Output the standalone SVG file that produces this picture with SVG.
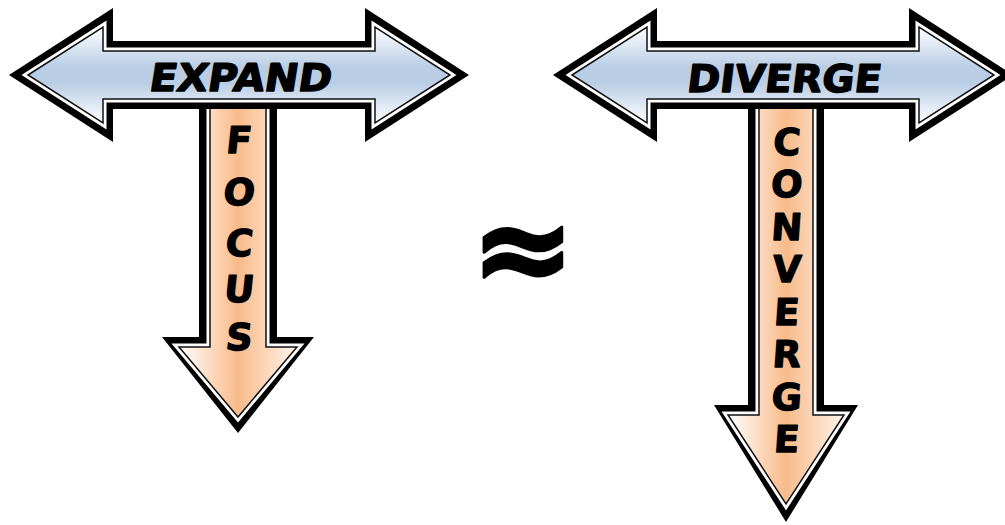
<svg xmlns="http://www.w3.org/2000/svg" width="1005" height="525" viewBox="0 0 1005 525">
  <defs>
    <linearGradient id="gBlue" x1="0" y1="0" x2="0" y2="1">
      <stop offset="0" stop-color="#ffffff"/>
      <stop offset="0.42" stop-color="#b9cde5"/>
      <stop offset="0.58" stop-color="#b9cde5"/>
      <stop offset="1" stop-color="#ffffff"/>
    </linearGradient>
    <linearGradient id="gOrange" x1="0" y1="0" x2="1" y2="0">
      <stop offset="0" stop-color="#ffffff"/>
      <stop offset="0.5" stop-color="#f8bb8a"/>
      <stop offset="1" stop-color="#fff4ec"/>
    </linearGradient>
    <path id="hOuter" d="M9,75 L113,8 L113,41 L365,41 L365,8 L469,75 L365,142 L365,109 L113,109 L113,142 Z"/>
    <path id="hInner" d="M28,75 L103,27 L103,51 L375,51 L375,27 L450,75 L375,123 L375,99 L103,99 L103,123 Z"/>
  </defs>
  <style>
    .outer { fill: #000000; }
    .gap { fill: none; stroke: #ffffff; stroke-width: 7; stroke-linejoin: miter; }
    .blue { fill: url(#gBlue); stroke: #111111; stroke-width: 1.5; }
    .orange { fill: url(#gOrange); stroke: #111111; stroke-width: 1.5; }
    .lbl { font-family: "DejaVu Sans", "Liberation Sans", sans-serif; font-weight: bold; fill: #000000; stroke: #000000; stroke-linejoin: round; }
    .h { font-size: 38px; stroke-width: 1.4; }
    .v { font-size: 37px; text-anchor: middle; stroke-width: 1.3; }
  </style>

  <g id="node-focus">
    <path class="outer" d="M199,90 L277,90 L277,337 L314,337 L238,433 L162,337 L199,337 Z"/>
    <path class="gap" d="M210,90 L266,90 L266,347 L297,347 L238,417 L179,347 L210,347 Z"/>
    <path class="orange" d="M210,90 L266,90 L266,347 L297,347 L238,417 L179,347 L210,347 Z"/>
    <text class="lbl v" transform="translate(238,153) skewX(-6)">F</text>
    <text class="lbl v" transform="translate(238,205) skewX(-6)">O</text>
    <text class="lbl v" transform="translate(238,256) skewX(-6)">C</text>
    <text class="lbl v" transform="translate(238,302) skewX(-6)">U</text>
    <text class="lbl v" transform="translate(238,350) skewX(-6)">S</text>
  </g>

  <g id="node-expand">
    <use href="#hOuter" class="outer"/>
    <use href="#hInner" class="gap"/>
    <use href="#hInner" class="blue"/>
    <text class="lbl h" transform="translate(239,91) skewX(-9)" text-anchor="middle" textLength="182" lengthAdjust="spacingAndGlyphs">EXPAND</text>
  </g>

  <g id="node-converge">
    <path class="outer" d="M748,90 L824,90 L824,405 L858,405 L786,522 L714,405 L748,405 Z"/>
    <path class="gap" d="M759,90 L813,90 L813,415 L844,415 L786,504 L728,415 L759,415 Z"/>
    <path class="orange" d="M759,90 L813,90 L813,415 L844,415 L786,504 L728,415 L759,415 Z"/>
    <text class="lbl v" transform="translate(786,155) skewX(-4)">C</text>
    <text class="lbl v" transform="translate(786,197.4) skewX(-4)">O</text>
    <text class="lbl v" transform="translate(786,239.9) skewX(-4)">N</text>
    <text class="lbl v" transform="translate(786,282.3) skewX(-4)">V</text>
    <text class="lbl v" transform="translate(786,324.7) skewX(-4)">E</text>
    <text class="lbl v" transform="translate(786,367.1) skewX(-4)">R</text>
    <text class="lbl v" transform="translate(786,409.6) skewX(-4)">G</text>
    <text class="lbl v" transform="translate(786,452) skewX(-4)">E</text>
  </g>

  <g id="node-diverge">
    <g transform="translate(544,0)">
      <use href="#hOuter" class="outer"/>
      <use href="#hInner" class="gap"/>
      <use href="#hInner" class="blue"/>
    </g>
    <text class="lbl h" transform="translate(783,92) skewX(-7)" text-anchor="middle" textLength="194" lengthAdjust="spacingAndGlyphs">DIVERGE</text>
  </g>

  <g id="node-approx">
    <text class="lbl" x="523" y="291" text-anchor="middle" font-size="124" stroke-width="3">≈</text>
  </g>

  <g id="connectors"/>
</svg>
